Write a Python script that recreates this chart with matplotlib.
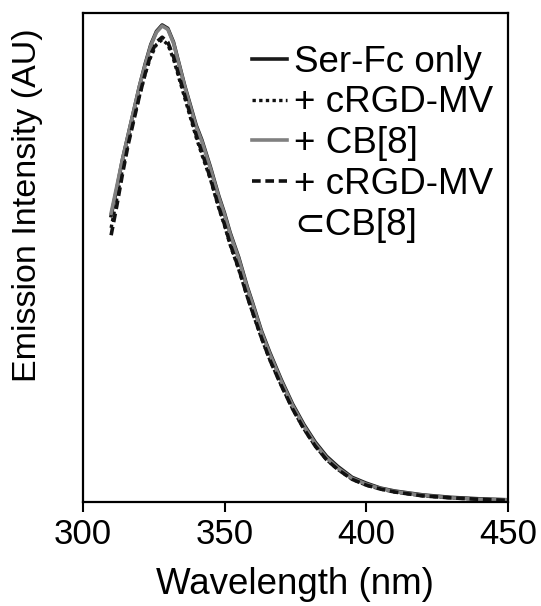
import matplotlib
matplotlib.use("Agg")
import matplotlib.pyplot as plt
from matplotlib.lines import Line2D

plt.rcParams['font.family'] = ['Liberation Sans', 'DejaVu Sans']

# wavelength (nm) and normalised emission intensity
wl = [310, 312, 314, 316, 318, 320, 322, 324, 326, 328, 330, 332, 334, 336, 338,
      340, 342, 345, 348, 350, 352, 355, 358, 360, 363, 366, 370, 374, 378, 382,
      386, 390, 395, 400, 405, 410, 415, 420, 430, 440, 450]

ser_fc = [0.585, 0.64, 0.70, 0.75, 0.80, 0.85, 0.895, 0.935, 0.962, 0.975, 0.968,
          0.94, 0.895, 0.85, 0.81, 0.77, 0.74, 0.685, 0.625, 0.59, 0.55, 0.50,
          0.44, 0.405, 0.35, 0.305, 0.25, 0.20, 0.158, 0.122, 0.093, 0.072, 0.05,
          0.038, 0.028, 0.022, 0.018, 0.014, 0.009, 0.006, 0.004]
plus_mv = [0.56, 0.62, 0.68, 0.735, 0.785, 0.83, 0.875, 0.91, 0.935, 0.945, 0.935,
           0.905, 0.865, 0.825, 0.785, 0.745, 0.71, 0.66, 0.60, 0.565, 0.525, 0.475,
           0.42, 0.385, 0.335, 0.29, 0.238, 0.19, 0.149, 0.114, 0.086, 0.066, 0.046,
           0.034, 0.026, 0.02, 0.016, 0.012, 0.008, 0.005, 0.003]
plus_cb8 = [0.59, 0.645, 0.70, 0.75, 0.80, 0.85, 0.893, 0.933, 0.96, 0.973, 0.966,
            0.938, 0.893, 0.848, 0.807, 0.767, 0.737, 0.682, 0.622, 0.587, 0.547,
            0.497, 0.437, 0.402, 0.347, 0.302, 0.247, 0.197, 0.155, 0.119, 0.09,
            0.069, 0.048, 0.036, 0.027, 0.021, 0.017, 0.013, 0.008, 0.005, 0.004]
plus_mv_cb8 = [0.545, 0.605, 0.67, 0.73, 0.78, 0.83, 0.875, 0.915, 0.94, 0.95, 0.94,
               0.91, 0.87, 0.83, 0.79, 0.75, 0.715, 0.662, 0.602, 0.567, 0.527,
               0.477, 0.42, 0.386, 0.336, 0.29, 0.238, 0.19, 0.149, 0.114, 0.086,
               0.066, 0.046, 0.034, 0.026, 0.02, 0.016, 0.012, 0.008, 0.005, 0.003]

labels = ["Ser-Fc only", "+ cRGD-MV", "+ CB[8]", "+ cRGD-MV", "\u2282CB[8]"]

fig = plt.figure(figsize=(5.41, 6.06), dpi=100)
ax = fig.add_axes([0.153, 0.172, 0.786, 0.807])

l1, = ax.plot(wl, ser_fc, color='#1a1a1a', lw=2.6)
l2, = ax.plot(wl, plus_mv, color='#111111', lw=2.4, linestyle=(0, (1, 1)))
l3, = ax.plot(wl, plus_cb8, color='#808080', lw=2.6)
l4, = ax.plot(wl, plus_mv_cb8, color='#111111', lw=2.6, linestyle=(0, (2.4, 1.3)))
# second line of the last legend label, no handle
blank = Line2D([], [], color='none')

ax.set_xlim(300, 450)
ax.set_ylim(0, 1.0)
ax.set_xticks([300, 350, 400, 450])
ax.set_yticks([])
ax.tick_params(axis='x', direction='out', length=7, width=1.5, labelsize=25, pad=5)
for s in ax.spines.values():
    s.set_linewidth(1.6)

ax.set_xlabel("Wavelength (nm)", fontsize=26.5, labelpad=11)
ax.set_ylabel("Emission Intensity (AU)", fontsize=24.5)
ax.yaxis.set_label_coords(-0.094, 0.607)

ax.legend([l1, l2, l3, l4, blank], labels, loc='upper right',
          bbox_to_anchor=(0.965, 0.935), frameon=False,
          fontsize=26.5, handlelength=0.95, handletextpad=0.18, labelspacing=0.16,
          borderpad=0.0, borderaxespad=0.0)

fig.savefig("out.png", dpi=100)
